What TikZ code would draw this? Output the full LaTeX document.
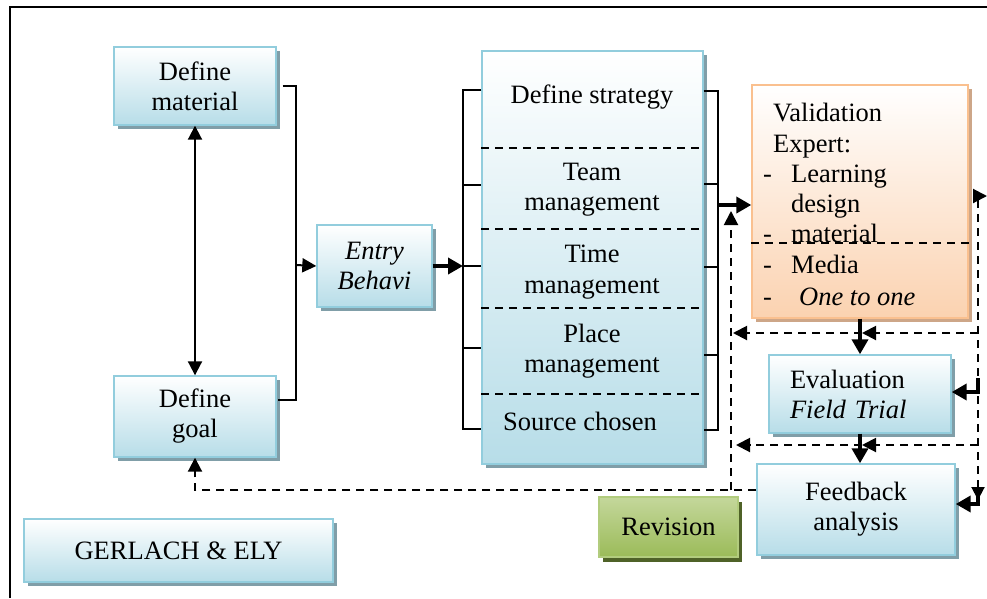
\documentclass[tikz,border=0pt]{standalone}
\usepackage{fontspec}
\setmainfont{Liberation Serif}
\usetikzlibrary{arrows.meta,shadows}
\definecolor{bbord}{RGB}{146,205,221}
\definecolor{bbot}{RGB}{183,221,232}
\definecolor{bshad}{RGB}{128,158,168}
\definecolor{obord}{RGB}{250,192,143}
\definecolor{obot}{RGB}{251,210,176}
\definecolor{oshad}{RGB}{205,166,136}
\definecolor{gtop}{RGB}{196,215,155}
\definecolor{gbot}{RGB}{155,187,89}
\definecolor{gbord}{RGB}{178,204,126}
\definecolor{gshad}{RGB}{79,98,40}
\tikzset{
  bigfont/.style={font=\fontsize{26.5}{30}\selectfont},
  box/.style={draw=bbord, line width=1.4pt, top color=white, bottom color=bbot,
    general shadow={fill=bshad, shadow xshift=4pt, shadow yshift=-4pt},
    inner sep=0pt, align=center, bigfont},
  obox/.style={draw=obord, line width=1.4pt, top color=white, bottom color=obot,
    general shadow={fill=oshad, shadow xshift=4pt, shadow yshift=-4pt},
    inner sep=0pt},
  gbox/.style={draw=gbord, line width=1.4pt, top color=gtop, bottom color=gbot,
    general shadow={fill=gshad, shadow xshift=4pt, shadow yshift=-5pt},
    inner sep=0pt, align=center, bigfont},
  txt/.style={inner sep=0pt, bigfont},
  conn/.style={line width=2pt, draw=black},
  thickconn/.style={line width=4pt, draw=black},
  dconn/.style={line width=2pt, draw=black, dash pattern=on 8pt off 6pt},
  divider/.style={line width=1.8pt, draw=black, dash pattern=on 8pt off 6pt},
  tip/.style={-{Triangle[length=14pt,width=14pt]}},
  bigtip/.style={-{Triangle[length=15pt,width=16pt]}},
  frameline/.style={line width=2pt, draw=black},
}
\begin{document}
\begin{tikzpicture}[x=1pt,y=-1pt]
\useasboundingbox (0,0) rectangle (987,598);
\draw[frameline] (9.5,598) -- (9.5,6.5) -- (987,6.5);

% left boxes
\node[box, minimum width=162pt, minimum height=78pt] (mat) at (195,86) {Define\\material};
\node[box, minimum width=162pt, minimum height=81pt] (goal) at (195,416.5) {Define\\goal};
\node[box, minimum width=115pt, minimum height=82pt, font=\fontsize{26.5}{30}\selectfont\itshape] (entry) at (374.5,266) {Entry\\Behavi};

% strategy box
\node[box, minimum width=221pt, minimum height=413pt] (strat) at (592.5,257.5) {};
\draw[divider] (strat.west |- 0,148) -- (strat.east |- 0,148);
\draw[divider] (strat.west |- 0,229) -- (strat.east |- 0,229);
\draw[divider] (strat.west |- 0,308) -- (strat.east |- 0,308);
\draw[divider] (strat.west |- 0,394) -- (strat.east |- 0,394);
\node[txt, anchor=base] (s1) at (592,103) {Define strategy};
\node[txt, anchor=base] (s2) at (592,180) {Team};
\node[txt, anchor=base] (s3) at (592,210) {management};
\node[txt, anchor=base] (s4) at (592,262) {Time};
\node[txt, anchor=base] (s5) at (592,293) {management};
\node[txt, anchor=base] (s6) at (592,342) {Place};
\node[txt, anchor=base] (s7) at (592,372) {management};
\node[txt, anchor=base] (s8) at (580,430) {Source chosen};

% validation box
\node[obox, minimum width=216pt, minimum height=233pt] (valid) at (860,201.5) {};
\draw[divider] (valid.west |- 0,243) -- (valid.east |- 0,243);
\node[txt, anchor=base west] (v1) at (773,121) {Validation};
\node[txt, anchor=base west] (v2) at (773,152) {Expert:};
\node[txt, anchor=base west] (d1) at (763,182) {-};
\node[txt, anchor=base west] (v3) at (791,182) {Learning};
\node[txt, anchor=base west] (v4) at (791,212) {design};
\node[txt, anchor=base west] (d2) at (763,242) {-};
\node[txt, anchor=base west] (v5) at (791,242) {material};
\node[txt, anchor=base west] (d3) at (763,273) {-};
\node[txt, anchor=base west] (v6) at (791,273) {Media};
\node[txt, anchor=base west] (d4) at (763,305) {-};
\node[txt, anchor=base west] (v7) at (799,305) {\itshape One to one};

% right boxes
\node[box, minimum width=182pt, minimum height=78pt, align=left, text width=140pt] (eval) at (860,394) {Evaluation\\\textit{Field Trial}};
\node[box, minimum width=198pt, minimum height=91pt] (fb) at (856,509.5) {Feedback\\analysis};
\node[gbox, minimum width=139pt, minimum height=60pt] (rev) at (668.5,527) {Revision};
\node[box, minimum width=309pt, minimum height=63pt] (ge) at (178.5,550.5) {GERLACH \& ELY};

% left connectors
\draw[conn, {Triangle[length=14pt,width=14pt]}-{Triangle[length=14pt,width=14pt]}] (mat.south) -- (goal.north);
\draw[conn] ([xshift=6pt]mat.east) -- (296,86) -- (296,400) -- ([xshift=1pt]goal.east |- 0,400);
\draw[conn, tip] (296,265) -- (entry.west);
\draw[thickconn, bigtip] (entry.east) -- (463,266);

% brackets
\draw[conn] (strat.west |- 0,90) -- (463,90) -- (463,429) -- (strat.west |- 0,429);
\foreach \yy in {185,266,348} \draw[conn] (463,\yy) -- (strat.west |- 0,\yy);
\draw[conn] (strat.east |- 0,91) -- (718,91) -- (718,430) -- (strat.east |- 0,430);
\foreach \yy in {184,267,355} \draw[conn] (718,\yy) -- (strat.east |- 0,\yy);
\draw[thickconn, bigtip] (718,205) -- (valid.west |- 0,205);

% flow down the right column
\draw[thickconn, bigtip] (valid.south) -- (eval.north);
\draw[thickconn, bigtip] (eval.south) -- (eval.south |- fb.north);

% dashed feedback loops
\draw[dconn, tip] (fb.west |- 0,490) -- (goal.south |- 0,490) -- (goal.south);
\draw[dconn, tip] (731,490) -- (731,211);
\draw[dconn] (978,200) -- (978,488);
\draw[conn, tip] (973,196) -- (987,196);
\draw[conn, -{Triangle[length=13pt,width=13pt]}] (978,484) -- (978,500);
\draw[dconn, tip] (978,333) -- (862,333);
\draw[dconn, tip] (862,333) -- (733,333);
\draw[dconn, tip] (978,445) -- (862,445);
\draw[dconn, tip] (862,445) -- (736,445);
\draw[thickconn, bigtip] (978,378) -- (978,392) -- (eval.east |- 0,392);
\draw[thickconn, bigtip] (978,496) -- (978,504) -- (fb.east |- 0,504);
\end{tikzpicture}
\end{document}
